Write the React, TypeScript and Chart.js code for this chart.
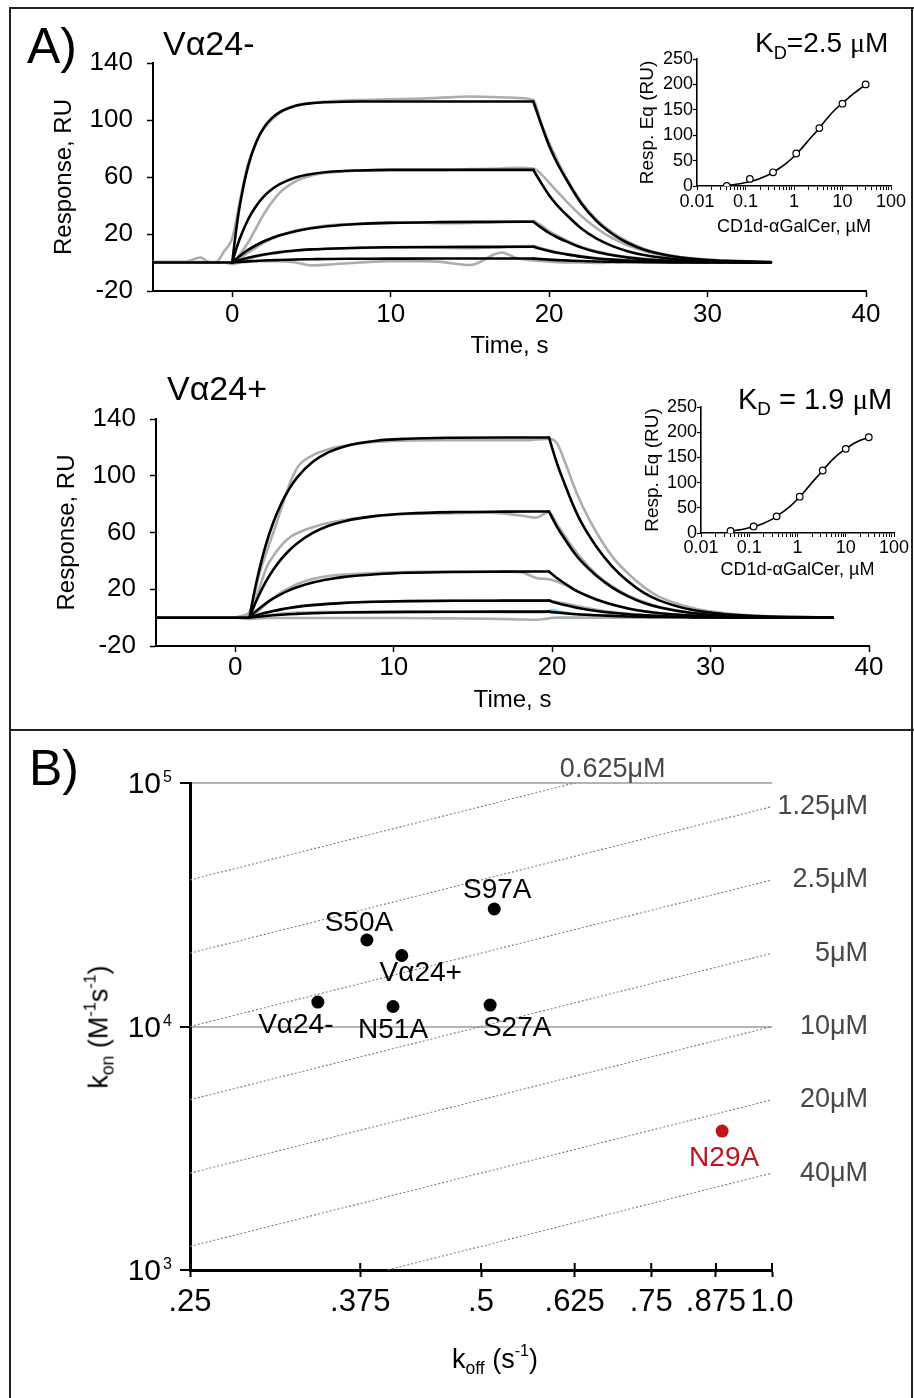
import React, { useEffect, useRef } from "react";
import { Chart, registerables } from "chart.js";

Chart.register(...registerables);

const SANS = "'Liberation Sans', Arial, Helvetica, sans-serif";
const SERIF = "'Liberation Serif', 'Times New Roman', serif";
Chart.defaults.font.family = SANS;
Chart.defaults.color = "#000";

// ---------------- Panel A: shared axes ----------------
const timeMin = -5;
const timeMax = 40;
const timeTicks = [0, 10, 20, 30, 40];
const respMin = -20;
const respMax = 140;
const respTicks = [-20, 20, 60, 100, 140];

// ---------------- Panel A top (Vα24-) : fitted curves ----------------
const baseA_t = [-5, 0];
const baseA_v = [0, 0];
const assocA_t = [0, 0.25, 0.5, 1, 1.5, 2, 2.5, 3, 4, 5, 6, 8, 10, 13, 16, 19];
const assocA_1 = [0, 22.9, 41.3, 67.5, 84.1, 94.7, 101.3, 105.6, 110, 111.8, 112.5, 113, 113, 113, 113, 113];
const assocA_2 = [0, 9.4, 17.4, 30.2, 39.5, 46.4, 51.4, 55, 59.7, 62.1, 63.5, 64.6, 65, 65, 65, 65];
const assocA_3 = [0, 2.5, 4.8, 8.8, 12.1, 14.9, 17.2, 19.1, 22, 24, 25.4, 27, 27.8, 28.3, 28.5, 28.6];
const assocA_4 = [0, 0.9, 1.8, 3.3, 4.6, 5.6, 6.5, 7.3, 8.4, 9.2, 9.7, 10.4, 10.7, 10.9, 11, 11.1];
const assocA_5 = [0, 0.2, 0.4, 0.8, 1.1, 1.4, 1.6, 1.8, 2.1, 2.3, 2.5, 2.6, 2.7, 2.8, 2.8, 2.8];
const dissA_t = [19, 19.5, 20, 20.5, 21, 22, 23, 24, 25, 26, 28, 30, 32, 34];
const dissA_1 = [113, 97, 82, 70, 60, 42, 29, 20, 13.5, 9, 4, 1.8, 0.8, 0.4];
const dissA_2 = [65, 55.8, 47.2, 40.3, 34.5, 24.2, 16.7, 11.5, 7.8, 5.2, 2.3, 1.0, 0.5, 0.2];
const dissA_3 = [28.6, 24.5, 20.7, 17.7, 15.2, 10.6, 7.3, 5.1, 3.4, 2.3, 1.0, 0.5, 0.2, 0.1];
const dissA_4 = [11.1, 9.5, 8.1, 6.9, 5.9, 4.1, 2.8, 2.0, 1.3, 0.9, 0.4, 0.2, 0.1, 0];
const dissA_5 = [2.8, 2.4, 2.0, 1.7, 1.5, 1.0, 0.7, 0.5, 0.3, 0.2, 0.1, 0, 0, 0];

// raw (grey) sensorgrams, top
const greyA_t = [-5, -3, -2, -1.5, -1, -0.5, 0, 0.5, 1, 1.5, 2, 3, 4, 5, 6, 8, 10, 12, 13, 15, 17, 18, 19, 19.5, 20, 21, 22, 23, 24, 26, 28, 30, 33];
const greyA_1 = [0.3, 0.3, 0.5, 0.3, 0.5, 8, 17, 44, 69, 84, 94, 105, 110, 112, 113, 114, 114.5, 115, 115.5, 116.5, 116, 115.5, 114, 98, 84, 61, 43, 30, 21, 9.5, 4.3, 2, 0.8];
const greyA_2 = [0, 0, 0, 0, 0, 0, 0, 6, 14, 24, 34, 49, 57, 61, 63, 64.5, 65, 65, 65, 65.5, 66, 66.5, 66, 62, 56, 44, 33, 24, 17, 8, 3.5, 1.5, 0.5];
const greyA_3 = [0, 0, 0, 0, 0, 0, 0, 3, 7, 10.5, 14, 19, 22.5, 24.5, 26, 27.3, 28, 28, 27.5, 27.8, 28.5, 29, 29, 26, 22, 16, 11, 7.8, 5.5, 2.6, 1.2, 0.5, 0.2];
const greyA_4 = [0, 0, 0, 0, 0, 0, 0, 1, 2.5, 4, 5.2, 7, 8.3, 9.1, 9.6, 10.2, 10.5, 10.5, 10.3, 10, 10.8, 11.3, 11.5, 10, 8.5, 6.2, 4.5, 3.1, 2.2, 1, 0.4, 0.2, 0];
const greyA_5 = [0.5, 0.5, 3.5, 0.5, 0, 0, -1, 0, 0.5, 0.8, 1, 1, 0, -2, -1.5, 0, 1, 1, 0.6, -1.8, 7, 3, 1.5, 1, 0.5, 0, 0, -0.3, 0, 0.3, 0, 0, 0];

// ---------------- Panel A bottom (Vα24+) : fitted curves ----------------
const baseB_t = [-5, 0.9];
const baseB_v = [0, 0];
const assocB_t = [0.9, 1.15, 1.4, 1.9, 2.4, 2.9, 3.4, 3.9, 4.9, 5.9, 6.9, 8.9, 10.9, 13.9, 16.9, 19.8];
const assocB_1 = [0, 14.9, 28.1, 50, 67, 80.3, 90.6, 98.7, 109.8, 116.6, 120.7, 124.7, 126.1, 126.8, 127, 127];
const assocB_2 = [0, 7.1, 13.5, 24.7, 33.7, 41.2, 47.3, 52.3, 59.7, 64.7, 68, 71.7, 73.4, 74.4, 74.7, 74.8];
const assocB_3 = [0, 2.8, 5.3, 9.8, 13.5, 16.6, 19.2, 21.4, 24.7, 27, 28.7, 30.6, 31.6, 32.2, 32.4, 32.5];
const assocB_4 = [0, 1, 1.8, 3.4, 4.7, 5.8, 6.8, 7.6, 8.8, 9.7, 10.4, 11.2, 11.6, 11.85, 11.95, 12];
const assocB_5 = [0, 0.3, 0.65, 1.2, 1.65, 2.05, 2.4, 2.65, 3.1, 3.4, 3.6, 3.9, 4.05, 4.15, 4.2, 4.2];
const dissB_t = [19.8, 20.3, 20.8, 21.3, 21.8, 22.8, 23.8, 24.8, 25.8, 26.8, 28.8, 30.8, 32.8, 35.3, 37.7];
const dissB_1 = [127, 109, 94, 80, 68, 50, 36, 25.5, 17.5, 12, 5.5, 2.5, 1.1, 0.4, 0.1];
const dissB_2 = [74.8, 64.2, 55.4, 47.1, 40.1, 29.5, 21.2, 15, 10.3, 7.1, 3.2, 1.5, 0.6, 0.2, 0.1];
const dissB_3 = [32.5, 27.9, 24.1, 20.5, 17.4, 12.8, 9.2, 6.5, 4.5, 3.1, 1.4, 0.6, 0.3, 0.1, 0];
const dissB_4 = [12, 10.3, 8.9, 7.6, 6.4, 4.7, 3.4, 2.4, 1.7, 1.1, 0.5, 0.2, 0.1, 0, 0];
const dissB_5 = [4.2, 3.6, 3.1, 2.6, 2.2, 1.7, 1.2, 0.8, 0.6, 0.4, 0.2, 0.1, 0, 0, 0];

// raw (grey) sensorgrams, bottom
const greyB_t = [-5, -2, 0, 0.5, 0.9, 1.5, 2, 2.5, 3, 3.5, 4, 5, 6, 8, 10, 13, 16, 18, 19, 19.8, 20.3, 20.9, 21.4, 21.9, 22.8, 23.8, 24.8, 25.8, 26.8, 28.8, 30.8, 32.8, 35.3, 37.5];
const greyB_1 = [0, 0, 0.3, 1.5, 4, 30, 47, 63, 80, 96, 107, 115, 119, 123, 124.5, 125, 125, 125, 125.5, 126, 123, 107, 92, 79, 60, 43, 31, 21.5, 14.5, 7, 3.2, 1.4, 0.5, 0.2];
const greyB_2 = [0, 0, 0, 0.5, 1, 20, 36, 45, 52, 57, 60, 64, 67, 70.5, 72.5, 73.5, 74, 72, 70.5, 74.5, 66, 56, 48, 41, 30.5, 22, 15.5, 11, 7.5, 3.5, 1.6, 0.7, 0.3, 0.1];
const greyB_3 = [0, 0, 0, 0.5, 1, 5, 10, 14.5, 18.5, 21.5, 24, 27.5, 29.5, 31, 32, 32.5, 32.5, 32, 28, 27, 25.5, 22.5, 19.5, 17, 12.5, 9, 6.5, 4.5, 3, 1.4, 0.6, 0.3, 0.1, 0];
const greyB_4 = [0, 0, 0, 0.3, 0.5, 2, 3.5, 4.8, 6, 7, 8, 9.2, 10, 11, 11.5, 11.8, 12, 12, 12, 12, 11, 9.8, 8.6, 7.5, 5.5, 4, 2.8, 2, 1.3, 0.6, 0.2, 0.1, 0, 0];
const greyB_5 = [0, 0, 0, -0.5, -1, 0.5, 1.5, 2.2, 2.8, 3.2, 3.5, 3.8, 4, 4, 4, 4, 4, 3.8, 3.8, 4, 3.5, 3, 2.6, 2.2, 1.7, 1.2, 0.8, 0.6, 0.4, 0.2, 0.1, 0, 0, 0];
const greyB_6 = [0, 0, 0, -0.3, -0.8, -0.5, -0.3, -0.3, -0.3, -0.3, -0.3, -0.3, -0.3, -0.3, -0.3, -0.5, -0.8, -1.3, -1.5, -0.5, 0, 0, 0, 0, 0, 0, 0, 0, 0, 0, 0, 0, 0, 0];
const cyanB_t = [19.5, 20, 20.5, 21.1];
const cyanB_v = [3.5, 5.5, 4.5, 3.5];

// ---------------- Insets (equilibrium binding) ----------------
const concPts = [0.041, 0.123, 0.37, 1.11, 3.33, 10, 30];
const eqA = [0, 14, 27, 64, 114, 162, 200];
const eqB = [4, 13, 33, 72, 124, 167, 190];
const fitConc = [0.037, 0.05, 0.07, 0.1, 0.15, 0.2, 0.3, 0.5, 0.7, 1, 1.5, 2, 3, 5, 7, 10, 15, 20, 30];
const fitA = [1, 2, 4, 7, 11, 15, 22, 35, 45, 58, 76, 90, 109, 135, 150, 163, 178, 187, 200];
const fitB = [3.5, 5, 7, 10.5, 15, 19.5, 27.5, 42, 53, 67, 86, 100, 119, 143, 156, 167, 178, 184, 190];
const insetDecades = [0.01, 0.1, 1, 10, 100];
const insetDecadeLabels = ["0.01", "0.1", "1", "10", "100"];
const insetYTicks = [0, 50, 100, 150, 200, 250];

// ---------------- Panel B (kinetics map) ----------------
const mutants = ["Vα24-", "S50A", "Vα24+", "N51A", "S97A", "S27A", "N29A"];
const koffVals = [0.339, 0.381, 0.414, 0.4055, 0.516, 0.511, 0.888];
const konVals = [12600, 22660, 19570, 12080, 30380, 12250, 3720];
const koffTicks = [0.25, 0.375, 0.5, 0.625, 0.75, 0.875, 1.0];
const koffTickLabels = [".25", ".375", ".5", ".625", ".75", ".875", "1.0"];
const konTicks = [1e3, 1e4, 1e5];
const konTickExp = ["3", "4", "5"];
const isoLabels = ["0.625μM", "1.25μM", "2.5μM", "5μM", "10μM", "20μM", "40μM"];
const isoKonAtLeft = [40000, 20000, 10000, 5000, 2500, 1250, 625];
const isoKonAtRight = [160000, 80000, 40000, 20000, 10000, 5000, 2500];

// ---------------- helpers ----------------
type Pt = { x: number; y: number };
const xy = (t: number[], v: number[]): Pt[] => t.map((x, i) => ({ x, y: v[i] }));

function lineDs(data: Pt[], color: string, width: number, extra: any = {}) {
  return {
    data,
    showLine: true,
    borderColor: color,
    backgroundColor: color,
    borderWidth: width,
    pointRadius: 0,
    pointHoverRadius: 0,
    fill: false,
    cubicInterpolationMode: "monotone",
    borderCapStyle: "round",
    borderJoinStyle: "round",
    ...extra,
  };
}

interface SensorSpec {
  w: number;
  h: number;
  area: { left: number; top: number; right: number; bottom: number };
  baseT: number[];
  baseV: number[];
  assocT: number[];
  assoc: number[][];
  dissT: number[];
  diss: number[][];
  greyT: number[];
  greys: number[][];
  cyanT?: number[];
  cyanV?: number[];
  xTickPad: number;
  xTitlePad: number;
  yTickPad: number;
  yTitlePad: number;
}

function sensorConfig(s: SensorSpec): any {
  const BLACK = "#000";
  const GREY = "#adadad";
  const datasets: any[] = [];
  datasets.push(lineDs(xy(s.baseT, s.baseV), BLACK, 2.6));
  s.assoc.forEach((v) => datasets.push(lineDs(xy(s.assocT, v), BLACK, 2.6)));
  s.diss.forEach((v) => datasets.push(lineDs(xy(s.dissT, v), BLACK, 2.6)));
  if (s.cyanT && s.cyanV) datasets.push(lineDs(xy(s.cyanT, s.cyanV), "#48d4e4", 1.5));
  s.greys.forEach((v) => datasets.push(lineDs(xy(s.greyT, v), GREY, 2.6)));
  return {
    type: "scatter",
    data: { datasets },
    options: {
      responsive: false,
      animation: false,
      events: [],
      layout: { padding: { left: 0, top: s.area.top, right: s.w - s.area.right, bottom: 0 } },
      plugins: { legend: { display: false }, tooltip: { enabled: false } },
      scales: {
        x: {
          type: "linear",
          min: timeMin,
          max: timeMax,
          afterBuildTicks: (sc: any) => {
            sc.ticks = timeTicks.map((value) => ({ value }));
          },
          afterFit: (sc: any) => {
            sc.height = s.h - s.area.bottom;
          },
          border: { display: true, color: "#000", width: 2 },
          grid: { drawOnChartArea: false, drawTicks: true, tickLength: 6, color: "#000", tickWidth: 1.5 },
          ticks: { color: "#000", font: { family: SANS, size: 26 }, padding: s.xTickPad, autoSkip: false, maxRotation: 0 },
          title: { display: true, text: "Time, s", color: "#000", font: { family: SANS, size: 24 }, padding: { top: 0, bottom: s.xTitlePad } },
        },
        y: {
          type: "linear",
          min: respMin,
          max: respMax,
          afterBuildTicks: (sc: any) => {
            sc.ticks = respTicks.map((value) => ({ value }));
          },
          afterFit: (sc: any) => {
            sc.width = s.area.left;
          },
          border: { display: true, color: "#000", width: 2 },
          grid: { drawOnChartArea: false, drawTicks: true, tickLength: 6, color: "#000", tickWidth: 1.5 },
          ticks: { color: "#000", font: { family: SANS, size: 26 }, padding: s.yTickPad },
          title: { display: true, text: "Response, RU", color: "#000", font: { family: SANS, size: 24 }, padding: { top: s.yTitlePad, bottom: 0 } },
        },
      },
    },
  };
}

interface InsetSpec {
  w: number;
  h: number;
  area: { left: number; top: number; right: number; bottom: number };
  pts: number[];
  fit: number[];
  xTickPad: number;
  xTitlePad: number;
  yTitlePad: number;
}

function insetConfig(s: InsetSpec): any {
  const minorTicks: number[] = [];
  insetDecades.forEach((d, i) => {
    if (i === insetDecades.length - 1) {
      minorTicks.push(d);
      return;
    }
    for (let m = 1; m <= 9; m++) minorTicks.push(m === 1 ? d : d * m);
  });
  return {
    type: "scatter",
    data: {
      datasets: [
        {
          data: xy(concPts, s.pts),
          showLine: false,
          pointRadius: 3.3,
          pointBorderWidth: 1.2,
          pointBorderColor: "#000",
          pointBackgroundColor: "#fff",
        },
        lineDs(xy(fitConc, s.fit), "#000", 1.6),
      ],
    },
    options: {
      responsive: false,
      animation: false,
      events: [],
      layout: { padding: { left: 0, top: s.area.top, right: s.w - s.area.right, bottom: 0 } },
      plugins: { legend: { display: false }, tooltip: { enabled: false } },
      scales: {
        x: {
          type: "logarithmic",
          min: insetDecades[0],
          max: insetDecades[insetDecades.length - 1],
          afterBuildTicks: (sc: any) => {
            sc.ticks = minorTicks.map((value) => ({ value }));
          },
          afterFit: (sc: any) => {
            sc.height = s.h - s.area.bottom;
          },
          border: { display: true, color: "#000", width: 1.6 },
          grid: { drawOnChartArea: false, drawTicks: true, tickLength: 4, color: "#000", tickWidth: 1 },
          ticks: {
            color: "#000",
            font: { family: SANS, size: 18 },
            padding: s.xTickPad,
            autoSkip: false,
            maxRotation: 0,
            callback: (v: number) => {
              const i = insetDecades.indexOf(v);
              return i >= 0 ? insetDecadeLabels[i] : "";
            },
          },
          title: { display: true, text: "CD1d-αGalCer, µM", color: "#000", font: { family: SANS, size: 18 }, padding: { top: 0, bottom: s.xTitlePad } },
        },
        y: {
          type: "linear",
          min: 0,
          max: 250,
          afterBuildTicks: (sc: any) => {
            sc.ticks = insetYTicks.map((value) => ({ value }));
          },
          afterFit: (sc: any) => {
            sc.width = s.area.left;
          },
          border: { display: true, color: "#000", width: 1.6 },
          grid: { drawOnChartArea: false, drawTicks: true, tickLength: 4, color: "#000", tickWidth: 1.2 },
          ticks: { color: "#000", font: { family: SANS, size: 18 }, padding: 0 },
          title: { display: true, text: "Resp. Eq (RU)", color: "#000", font: { family: SANS, size: 19 }, padding: { top: s.yTitlePad, bottom: 0 } },
        },
      },
    },
  };
}

const pointLabelOffsets = [
  [-22, 23],
  [-8, -17],
  [19, 18],
  [0, 24],
  [3, -19],
  [27, 23],
  [2, 27],
];

const kineticsPlugin = {
  id: "kineticsLabels",
  afterDatasetsDraw(chart: any) {
    const { ctx } = chart;
    const x = chart.scales.x;
    const y = chart.scales.y;
    ctx.save();
    // inner halves of the x tick marks
    ctx.strokeStyle = "#000";
    ctx.lineWidth = 2;
    koffTicks.forEach((v) => {
      const px = x.getPixelForValue(v);
      ctx.beginPath();
      ctx.moveTo(px, y.bottom);
      ctx.lineTo(px, y.bottom - 7);
      ctx.stroke();
    });
    // y tick labels 10^n
    ctx.fillStyle = "#000";
    konTicks.forEach((v, i) => {
      const py = y.getPixelForValue(v);
      ctx.font = `30px ${SANS}`;
      ctx.textAlign = "right";
      ctx.textBaseline = "middle";
      ctx.fillText("10", 161, py + 2);
      ctx.font = `16px ${SANS}`;
      ctx.textAlign = "left";
      ctx.fillText(konTickExp[i], 163, py - 5);
    });
    // iso-affinity labels
    ctx.fillStyle = "#474747";
    ctx.font = `27px ${SANS}`;
    ctx.textBaseline = "middle";
    isoLabels.forEach((lab, i) => {
      if (i === 0) {
        ctx.textAlign = "center";
        const koffAtTop = y.max / isoKonAtRight[0];
        ctx.fillText(lab, x.getPixelForValue(koffAtTop) + 38, y.top - 13);
      } else {
        ctx.textAlign = "right";
        ctx.fillText(lab, x.right + 96, y.getPixelForValue(isoKonAtRight[i]));
      }
    });
    // mutant labels
    ctx.font = `28px ${SANS}`;
    ctx.textAlign = "center";
    mutants.forEach((m, i) => {
      const px = x.getPixelForValue(koffVals[i]);
      const py = y.getPixelForValue(konVals[i]);
      ctx.fillStyle = m === "N29A" ? "#c0121c" : "#000";
      ctx.fillText(m, px + pointLabelOffsets[i][0], py + pointLabelOffsets[i][1]);
    });
    ctx.restore();
  },
};

function kineticsConfig(w: number, h: number, area: { left: number; top: number; right: number; bottom: number }): any {
  const colors = mutants.map((m) => (m === "N29A" ? "#c0121c" : "#000"));
  const datasets: any[] = [
    {
      data: xy(koffVals, konVals),
      showLine: false,
      pointRadius: 6.5,
      pointBorderWidth: 0,
      pointBackgroundColor: colors,
      pointBorderColor: colors,
    },
  ];
  isoLabels.forEach((_, i) => {
    datasets.push(
      lineDs(
        [
          { x: koffTicks[0], y: isoKonAtLeft[i] },
          { x: koffTicks[koffTicks.length - 1], y: isoKonAtRight[i] },
        ],
        "#7d7d7d",
        1.1,
        { borderDash: [2, 2], cubicInterpolationMode: "default", tension: 0, borderCapStyle: "butt" }
      )
    );
  });
  return {
    type: "scatter",
    data: { datasets },
    plugins: [kineticsPlugin],
    options: {
      responsive: false,
      animation: false,
      events: [],
      layout: { padding: { left: 0, top: area.top, right: w - area.right, bottom: 0 } },
      plugins: { legend: { display: false }, tooltip: { enabled: false } },
      scales: {
        x: {
          type: "logarithmic",
          min: koffTicks[0],
          max: koffTicks[koffTicks.length - 1],
          afterBuildTicks: (sc: any) => {
            sc.ticks = koffTicks.map((value) => ({ value }));
          },
          afterFit: (sc: any) => {
            sc.height = h - area.bottom;
          },
          border: { display: true, color: "#000", width: 3 },
          grid: { drawOnChartArea: false, drawTicks: true, tickLength: 7, color: "#000", tickWidth: 2 },
          ticks: {
            color: "#000",
            font: { family: SANS, size: 31 },
            padding: 7,
            autoSkip: false,
            maxRotation: 0,
            callback: (_v: number, i: number) => koffTickLabels[i],
          },
        },
        y: {
          type: "logarithmic",
          min: konTicks[0],
          max: konTicks[konTicks.length - 1],
          afterBuildTicks: (sc: any) => {
            sc.ticks = konTicks.map((value) => ({ value }));
          },
          afterFit: (sc: any) => {
            sc.width = area.left;
          },
          border: { display: true, color: "#000", width: 3 },
          grid: {
            drawOnChartArea: true,
            drawTicks: true,
            tickLength: 10,
            lineWidth: 2,
            color: (ctx: any) => (ctx.tick && ctx.tick.value > konTicks[0] ? "#b4b4b4" : "rgba(0,0,0,0)"),
            tickColor: "#000",
            tickWidth: 2,
          },
          ticks: { display: true, callback: () => "", padding: 0 },
        },
      },
    },
  };
}

// ---------------- components ----------------
function ChartBox({ left, top, width, height, make }: { left: number; top: number; width: number; height: number; make: () => any }) {
  const ref = useRef<HTMLCanvasElement | null>(null);
  useEffect(() => {
    if (!ref.current) return;
    const chart = new Chart(ref.current, make());
    return () => chart.destroy();
  }, []);
  return (
    <div style={{ position: "absolute", left, top, width, height }}>
      <canvas ref={ref} width={width} height={height} style={{ width, height, display: "block" }} />
    </div>
  );
}

function Txt({ x, y, size, children, color = "#000", center = false }: any) {
  return (
    <div
      style={{
        position: "absolute",
        left: x,
        top: y - 0.49 * size,
        fontSize: size,
        lineHeight: `${size}px`,
        fontFamily: SANS,
        color,
        whiteSpace: "nowrap",
        transform: center ? "translateX(-50%)" : undefined,
      }}
    >
      {children}
    </div>
  );
}

const Sub = ({ children }: any) => (
  <span style={{ fontSize: "0.65em", position: "relative", top: "0.35em" }}>{children}</span>
);
const Sup = ({ children }: any) => (
  <span style={{ fontSize: "0.6em", position: "relative", top: "-0.75em" }}>{children}</span>
);
const Mu = () => <span style={{ fontFamily: SERIF }}>μ</span>;

export default function App() {
  const topSpec: SensorSpec = {
    w: 914,
    h: 365,
    area: { left: 153, top: 63, right: 866, bottom: 291 },
    baseT: baseA_t,
    baseV: baseA_v,
    assocT: assocA_t,
    assoc: [assocA_1, assocA_2, assocA_3, assocA_4, assocA_5],
    dissT: dissA_t,
    diss: [dissA_1, dissA_2, dissA_3, dissA_4, dissA_5],
    greyT: greyA_t,
    greys: [greyA_1, greyA_2, greyA_3, greyA_4, greyA_5],
    xTickPad: 2,
    xTitlePad: 4,
    yTickPad: 14,
    yTitlePad: 50,
  };
  const botSpec: SensorSpec = {
    w: 914,
    h: 365,
    area: { left: 156, top: 54, right: 869, bottom: 281 },
    baseT: baseB_t,
    baseV: baseB_v,
    assocT: assocB_t,
    assoc: [assocB_1, assocB_2, assocB_3, assocB_4, assocB_5],
    dissT: dissB_t,
    diss: [dissB_1, dissB_2, dissB_3, dissB_4, dissB_5],
    greyT: greyB_t,
    greys: [greyB_1, greyB_2, greyB_3, greyB_4, greyB_5, greyB_6],
    cyanT: cyanB_t,
    cyanV: cyanB_v,
    xTickPad: 0,
    xTitlePad: 15,
    yTickPad: 14,
    yTitlePad: 53,
  };
  const insetASpec: InsetSpec = {
    w: 314,
    h: 220,
    area: { left: 97, top: 39, right: 291, bottom: 166 },
    pts: eqA,
    fit: fitA,
    xTickPad: 1,
    xTitlePad: 2,
    yTitlePad: 36,
  };
  const insetBSpec: InsetSpec = {
    w: 314,
    h: 210,
    area: { left: 101, top: 27, right: 294, bottom: 153 },
    pts: eqB,
    fit: fitB,
    xTickPad: 0,
    xTitlePad: 9,
    yTitlePad: 41,
  };

  return (
    <div style={{ position: "absolute", left: 0, top: 0, width: 914, height: 1398, background: "#fff", overflow: "hidden", fontFamily: SANS }}>
      {/* frame */}
      <div style={{ position: "absolute", left: 9, top: 7, width: 905, height: 2, background: "#222" }} />
      <div style={{ position: "absolute", left: 9, top: 7, width: 2, height: 1391, background: "#222" }} />
      <div style={{ position: "absolute", left: 911, top: 7, width: 2, height: 1391, background: "#222" }} />
      <div style={{ position: "absolute", left: 9, top: 729, width: 905, height: 2, background: "#222" }} />

      <ChartBox left={0} top={0} width={914} height={365} make={() => sensorConfig(topSpec)} />
      <ChartBox left={0} top={365} width={914} height={365} make={() => sensorConfig(botSpec)} />
      <ChartBox left={600} top={20} width={314} height={220} make={() => insetConfig(insetASpec)} />
      <ChartBox left={600} top={380} width={314} height={210} make={() => insetConfig(insetBSpec)} />
      <ChartBox left={0} top={735} width={914} height={663} make={() => kineticsConfig(914, 663, { left: 190, top: 48, right: 772, bottom: 535 })} />

      <Txt x={27} y={45} size={50}>A)</Txt>
      <Txt x={163} y={42.5} size={34}>Vα24-</Txt>
      <Txt x={167} y={387.5} size={34}>Vα24+</Txt>
      <Txt x={755} y={43} size={28}>
        K<Sub>D</Sub>=2.5 <Mu />M
      </Txt>
      <Txt x={738} y={399} size={29}>
        K<Sub>D</Sub> = 1.9 <Mu />M
      </Txt>
      <Txt x={29} y={767.5} size={50}>B)</Txt>

      <div
        style={{
          position: "absolute",
          left: 100,
          top: 1027,
          transform: "translate(-50%,-50%) rotate(-90deg)",
          fontSize: 27,
          lineHeight: "30px",
          fontFamily: SANS,
          whiteSpace: "nowrap",
          color: "#000",
        }}
      >
        k<Sub>on</Sub> (M<Sup>-1</Sup>s<Sup>-1</Sup>)
      </div>
      <div
        style={{
          position: "absolute",
          left: 495,
          top: 1360,
          transform: "translate(-50%,-50%)",
          fontSize: 27,
          lineHeight: "30px",
          fontFamily: SANS,
          whiteSpace: "nowrap",
          color: "#000",
        }}
      >
        k<Sub>off</Sub> (s<Sup>-1</Sup>)
      </div>
    </div>
  );
}
